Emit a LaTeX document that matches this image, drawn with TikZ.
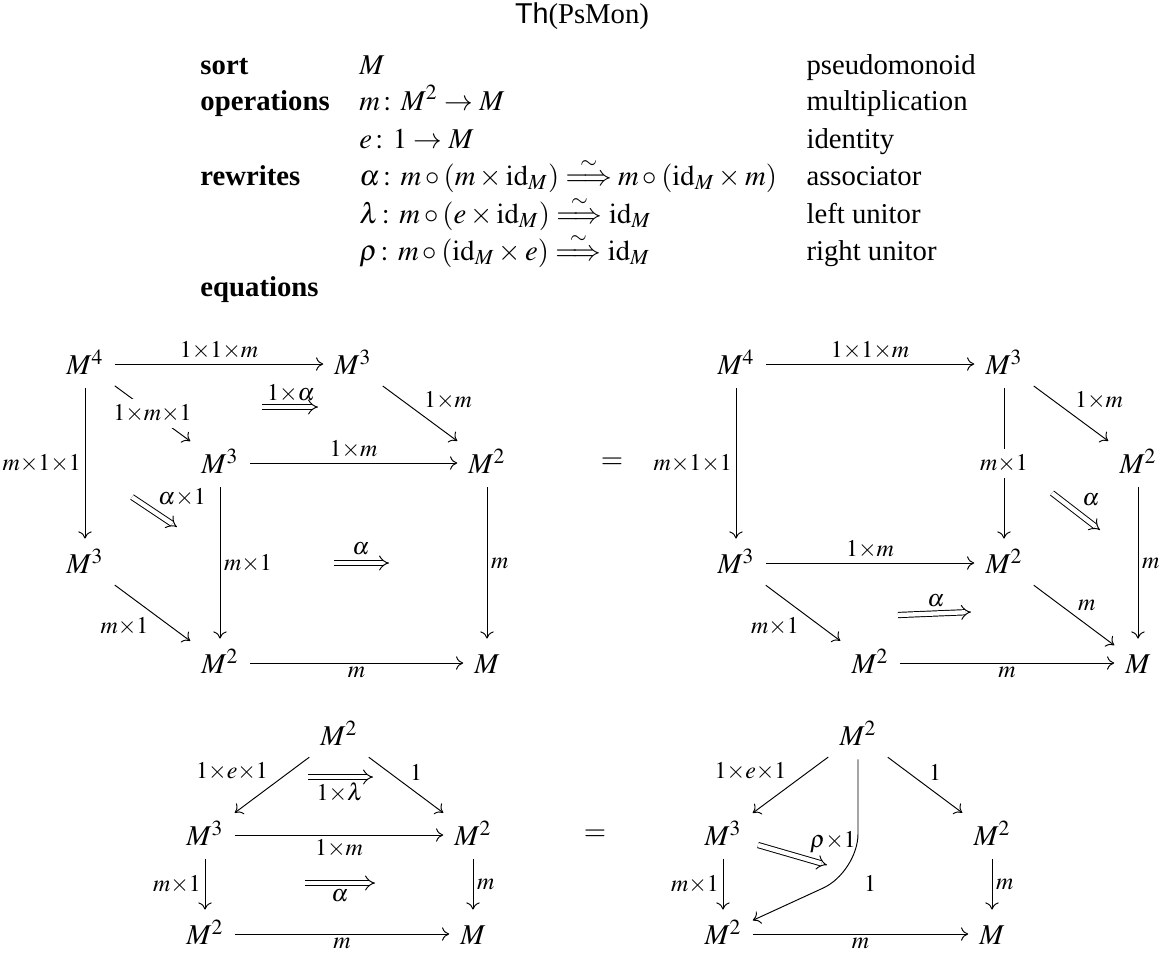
\documentclass[12pt,tikz,border=0pt]{standalone}
\usepackage{amsmath}
\usepackage{mathptmx}
\usepackage[no-math]{fontspec}
\setmainfont{Liberation Serif}
\setsansfont{Liberation Sans}
\usetikzlibrary{arrows.meta}
\newcommand\labfont{\fontsize{10}{12}\selectfont}
\tikzset{
  x=0.418pt, y=-0.418pt,
  ob/.style={inner sep=4.5pt, text height=10pt, text depth=1pt},
  ar/.style={-{Computer Modern Rightarrow[length=3pt,width=5.6pt]}},
  lab/.style={font=\labfont, inner sep=1.5pt},
  desc/.style={font=\labfont, fill=white, inner sep=2.5pt},
  dbl/.style={double, double distance=1.8pt, -{Implies}},
  hd/.style={anchor=base west, inner sep=0pt},
}
\begin{document}
\begin{tikzpicture}
\useasboundingbox (0,0) rectangle (1164,953);
% header
\node[anchor=base, inner sep=0pt] (title) at (582,23) {\textsf{Th}(PsMon)};
\coordinate (r1) at (0,74);
\coordinate (r2) at (0,110);
\coordinate (r3) at (0,148);
\coordinate (r4) at (0,185);
\coordinate (r5) at (0,223);
\coordinate (r6) at (0,260);
\coordinate (r7) at (0,296);
\node[hd] (k1) at (200,74) {\textbf{sort}};
\node[hd] (k2) at (200,110) {\textbf{operations}};
\node[hd] (k3) at (200,185) {\textbf{rewrites}};
\node[hd] (k4) at (200,296) {\textbf{equations}};
\path (k2.base east) ++(12pt,0) coordinate (c2);
\node[hd] (v1) at (c2 |- r1) {$M$};
\node[hd] (v2) at (c2 |- r2) {$m\colon M^2\to M$};
\node[hd] (v3) at (c2 |- r3) {$e\colon 1\to M$};
\node[hd] (v4) at (c2 |- r4) {$\alpha\colon m\circ(m\times\mathrm{id}_M)\overset{\sim}{\Longrightarrow} m\circ(\mathrm{id}_M\times m)$};
\node[hd] (v5) at (c2 |- r5) {$\lambda\colon m\circ(e\times\mathrm{id}_M)\overset{\sim}{\Longrightarrow}\mathrm{id}_M$};
\node[hd] (v6) at (c2 |- r6) {$\rho\colon m\circ(\mathrm{id}_M\times e)\overset{\sim}{\Longrightarrow}\mathrm{id}_M$};
\path (v4.base east) ++(12pt,0) coordinate (c3);
\node[hd] (d1) at (c3 |- r1) {pseudomonoid};
\node[hd] (d2) at (c3 |- r2) {multiplication};
\node[hd] (d3) at (c3 |- r3) {identity};
\node[hd] (d4) at (c3 |- r4) {associator};
\node[hd] (d5) at (c3 |- r5) {left unitor};
\node[hd] (d6) at (c3 |- r6) {right unitor};
% cube A
\node[ob] (A1) at (85,364) {$M^4$};
\node[ob] (A2) at (353,364) {$M^3$};
\node[ob] (A3) at (220,463) {$M^3$};
\node[ob] (A4) at (487,463) {$M^2$};
\node[ob] (A5) at (85,563) {$M^3$};
\node[ob] (A6) at (220,663) {$M^2$};
\node[ob] (A7) at (487,663) {$M$};
\draw[ar] (A1) -- node[lab,above] {$1{\times}1{\times}m$} (A2);
\draw[ar] (A1) -- node[desc] {$1{\times}m{\times}1$} (A3);
\draw[ar] (A2) -- node[lab,above right] {$1{\times}m$} (A4);
\draw[ar] (A3) -- node[lab,above] {$1{\times}m$} (A4);
\draw[ar] (A1) -- node[lab,left] {$m{\times}1{\times}1$} (A5);
\draw[ar] (A3) -- node[lab,right] {$m{\times}1$} (A6);
\draw[ar] (A4) -- node[lab,right] {$m$} (A7);
\draw[ar] (A5) -- node[lab,below left] {$m{\times}1$} (A6);
\draw[ar] (A6) -- node[lab,below] {$m$} (A7);
\coordinate (a1s) at (262,407); \coordinate (a1e) at (318,407);
\draw[dbl] (a1s) -- (a1e) node[lab] at (291,393) {$1{\times}\alpha$};
\coordinate (a2s) at (132,497); \coordinate (a2e) at (177,527);
\draw[dbl] (a2s) -- (a2e) node[lab] at (182,497) {$\alpha{\times}1$};
\coordinate (a3s) at (334,563); \coordinate (a3e) at (389,563);
\draw[dbl] (a3s) -- (a3e) node[lab] at (361,549) {$\alpha$};
\node (eq1) at (612,463) {$=$};
% cube B
\node[ob] (B1) at (736,364) {$M^4$};
\node[ob] (B2) at (1004,364) {$M^3$};
\node[ob] (B3) at (1138,463) {$M^2$};
\node[ob] (B4) at (736,563) {$M^3$};
\node[ob] (B5) at (1004,563) {$M^2$};
\node[ob] (B6) at (870,663) {$M^2$};
\node[ob] (B7) at (1138,663) {$M$};
\draw[ar] (B1) -- node[lab,above] {$1{\times}1{\times}m$} (B2);
\draw[ar] (B1) -- node[lab,left] {$m{\times}1{\times}1$} (B4);
\draw[ar] (B2) -- node[desc] {$m{\times}1$} (B5);
\draw[ar] (B2) -- node[lab,above right] {$1{\times}m$} (B3);
\draw[ar] (B3) -- node[lab,right] {$m$} (B7);
\draw[ar] (B4) -- node[lab,above] {$1{\times}m$} (B5);
\draw[ar] (B4) -- node[lab,below left] {$m{\times}1$} (B6);
\draw[ar] (B5) -- node[lab,above right] {$m$} (B7);
\draw[ar] (B6) -- node[lab,below] {$m$} (B7);
\coordinate (b1s) at (1052,493); \coordinate (b1e) at (1100,530);
\draw[dbl] (b1s) -- (b1e) node[lab] at (1091,500) {$\alpha$};
\coordinate (b2s) at (898,615); \coordinate (b2e) at (971,612);
\draw[dbl] (b2s) -- (b2e) node[lab] at (936,601) {$\alpha$};
% lower left C
\node[ob] (C1) at (339,735) {$M^2$};
\node[ob] (C2) at (205,835) {$M^3$};
\node[ob] (C3) at (473,835) {$M^2$};
\node[ob] (C4) at (205,934) {$M^2$};
\node[ob] (C5) at (473,934) {$M$};
\draw[ar] (C1) -- node[lab,above left] {$1{\times}e{\times}1$} (C2);
\draw[ar] (C1) -- node[lab,above right] {$1$} (C3);
\draw[ar] (C2) -- node[lab,below] {$1{\times}m$} (C3);
\draw[ar] (C2) -- node[lab,left] {$m{\times}1$} (C4);
\draw[ar] (C3) -- node[lab,right] {$m$} (C5);
\draw[ar] (C4) -- node[lab,below] {$m$} (C5);
\coordinate (c1s) at (308,777); \coordinate (c1e) at (373,777);
\draw[dbl] (c1s) -- (c1e) node[lab] at (340,793) {$1{\times}\lambda$};
\coordinate (c2s) at (305,883); \coordinate (c2e) at (375,883);
\draw[dbl] (c2s) -- (c2e) node[lab] at (340,896) {$\alpha$};
\node (eq2) at (595,835) {$=$};
% lower right D
\node[ob] (D1) at (858,735) {$M^2$};
\node[ob] (D2) at (723,835) {$M^3$};
\node[ob] (D3) at (992,835) {$M^2$};
\node[ob] (D4) at (723,934) {$M^2$};
\node[ob] (D5) at (992,934) {$M$};
\draw[ar] (D1) -- node[lab,above left] {$1{\times}e{\times}1$} (D2);
\draw[ar] (D1) -- node[lab,above right] {$1$} (D3);
\draw[ar] (D2) -- node[lab,left] {$m{\times}1$} (D4);
\draw[ar] (D3) -- node[lab,right] {$m$} (D5);
\draw[ar] (D4) -- node[lab,below] {$m$} (D5);
\coordinate (Dk) at (858,872);
\draw[ar, rounded corners=16pt] (D1) -- (Dk) -- (D4);
\node[lab] (Dl) at (870,883) {$1$};
\coordinate (d1s) at (758,845); \coordinate (d1e) at (827,865);
\draw[dbl] (d1s) -- (d1e) node[lab] at (833,842) {$\rho{\times}1$};
\end{tikzpicture}
\end{document}
